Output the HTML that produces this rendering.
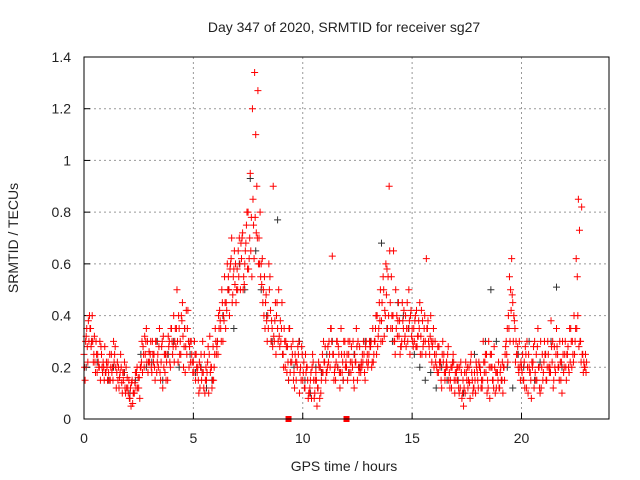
<!DOCTYPE html>
<html><head><meta charset="utf-8"><style>
html,body{margin:0;padding:0;background:#fff;}
svg{display:block;font-family:"Liberation Sans",sans-serif;}
</style></head><body>
<svg id="chart" width="640" height="480" viewBox="0 0 640 480" xmlns="http://www.w3.org/2000/svg">
<text x="344" y="32" font-size="14" text-anchor="middle" fill="#222">Day 347 of 2020, SRMTID for receiver sg27</text>
<text x="344" y="471" font-size="14" text-anchor="middle" fill="#222">GPS time / hours</text>
<text transform="translate(18,238) rotate(-90)" font-size="14" text-anchor="middle" fill="#222">SRMTID / TECUs</text>
<g id="grid"></g>
<g id="ticks"></g>
<g id="blk"></g>
<g id="red"></g>
<rect x="84" y="57" width="525" height="362" fill="none" stroke="#000" stroke-width="1"/>
</svg>
<script>
const xTicks=[0,5,10,15,20];
const yTicks=[0,0.2,0.4,0.6,0.8,1,1.2,1.4];
const yTickLabels=["0","0.2","0.4","0.6","0.8","1","1.2","1.4"];
const stepA=0.1;
const seriesA=[.25,.32,.38,.35,.3,.22,.18,.2,.25,.2,.18,.22,.15,.2,.25,.18,.12,.2,.15,.1,.12,.08,.15,.1,.18,.12,.2,.28,.25,.3,.22,.18,.25,.3,.2,.15,.12,.18,.25,.3,.35,.4,.28,.22,.3,.45,.35,.25,.2,.3,.22,.15,.2,.12,.18,.25,.15,.1,.2,.28,.35,.3,.42,.5,.38,.45,.55,.6,.48,.52,.58,.7,.62,.55,.68,.8,.95,1.2,1.34,.9,.7,.6,.5,.45,.4,.55,.35,.3,.4,.5,.3,.25,.2,.28,.35,.22,.18,.15,.25,.2,.15,.12,.2,.1,.08,.15,.18,.12,.2,.25,.22,.18,.3,.35,.25,.15,.2,.12,.18,.25,.2,.25,.18,.3,.22,.15,.28,.2,.25,.3,.22,.28,.35,.3,.4,.45,.38,.5,.6,.55,.45,.35,.3,.4,.32,.28,.35,.4,.3,.25,.35,.3,.42,.38,.32,.28,.3,.35,.25,.22,.2,.25,.18,.22,.3,.15,.2,.18,.12,.22,.15,.2,.12,.1,.18,.15,.2,.25,.12,.1,.15,.2,.12,.18,.25,.3,.2,.15,.1,.18,.12,.15,.2,.3,.4,.5,.45,.35,.25,.3,.2,.15,.25,.1,.18,.2,.3,.15,.2,.12,.18,.25,.3,.2,.22,.28,.35,.2,.15,.25,.3,.25,.35,.2,.4,.62,.85,.3,.25,.2];
const seriesB=[.15,.28,.4,.3,.25,.3,.22,.15,.18,.28,.2,.15,.25,.3,.2,.15,.18,.1,.22,.12,.15,.05,.1,.18,.12,.08,.3,.2,.35,.22,.3,.25,.15,.22,.35,.28,.2,.15,.32,.2,.25,.3,.5,.35,.4,.2,.28,.42,.3,.22,.3,.2,.1,.25,.18,.15,.22,.32,.12,.2,.25,.4,.35,.3,.45,.6,.4,.7,.58,.45,.65,.5,.72,.6,.8,.62,.78,.75,1.1,1.27,.8,.62,.55,.38,.6,.3,.9,.45,.35,.28,.45,.35,.28,.15,.22,.3,.25,.2,.1,.28,.22,.18,.08,.15,.25,.1,.05,.2,.15,.3,.15,.28,.2,.63,.18,.3,.25,.35,.15,.2,.15,.3,.22,.12,.35,.2,.18,.22,.15,.25,.3,.2,.25,.4,.32,.5,.3,.42,.58,.9,.55,.65,.5,.38,.25,.45,.3,.35,.5,.42,.28,.4,.32,.45,.25,.35,.62,.3,.4,.3,.3,.18,.22,.12,.25,.2,.28,.15,.22,.1,.2,.1,.18,.05,.22,.12,.08,.15,.18,.2,.22,.12,.3,.25,.15,.08,.2,.28,.12,.22,.2,.1,.25,.35,.55,.62,.4,.3,.2,.15,.25,.12,.3,.2,.08,.28,.15,.35,.1,.25,.3,.15,.2,.38,.12,.18,.25,.3,.1,.2,.15,.2,.35,.25,.3,.55,.73,.82,.22,.18];
const seriesD=[.2,.35,.3,.28,.22,.18,.25,.3,.2,.15,.22,.18,.2,.15,.28,.22,.16,.14,.18,.2,.1,.12,.06,.14,.2,.16,.22,.25,.3,.18,.25,.3,.2,.18,.28,.22,.32,.25,.15,.22,.3,.22,.35,.4,.25,.32,.18,.35,.28,.25,.18,.25,.15,.2,.3,.1,.18,.25,.2,.15,.3,.25,.38,.45,.55,.42,.5,.62,.55,.6,.5,.6,.7,.52,.75,.58,.65,.85,.78,.7,.6,.52,.4,.48,.35,.42,.28,.38,.45,.32,.35,.2,.3,.22,.18,.25,.12,.22,.3,.15,.18,.25,.15,.12,.2,.08,.15,.22,.1,.18,.28,.2,.25,.3,.15,.22,.28,.18,.22,.3,.25,.18,.28,.15,.22,.3,.2,.25,.18,.22,.25,.3,.22,.35,.28,.38,.45,.32,.48,.4,.35,.4,.25,.32,.38,.3,.42,.28,.35,.4,.3,.38,.28,.35,.42,.3,.25,.38,.32,.28,.25,.2,.28,.15,.22,.18,.25,.12,.2,.15,.18,.12,.22,.15,.1,.2,.14,.18,.12,.22,.12,.18,.15,.22,.1,.2,.25,.12,.18,.15,.18,.22,.15,.25,.35,.42,.3,.22,.28,.2,.18,.22,.12,.25,.15,.22,.18,.28,.12,.2,.22,.15,.25,.18,.3,.2,.28,.15,.22,.18,.2,.28,.22,.3,.25,.35,.28,.22,.18,.25];
const seriesE=[.3,.22,.35,.4,.32,.25,.2,.28,.22,.18,.15,.25,.18,.22,.12,.2,.25,.18,.12,.16,.08,.14,.1,.12,.16,.2,.18,.32,.22,.26,.2,.22,.3,.25,.18,.3,.25,.22,.28,.35,.28,.35,.3,.25,.38,.28,.42,.3,.22,.18,.25,.18,.22,.15,.12,.2,.28,.18,.15,.25,.28,.35,.3,.4,.35,.5,.58,.45,.65,.5,.55,.68,.5,.65,.58,.7,.55,.62,.72,.6,.55,.45,.35,.3,.5,.38,.32,.25,.3,.38,.25,.3,.18,.35,.28,.15,.22,.28,.18,.25,.12,.2,.1,.18,.22,.15,.12,.08,.18,.22,.18,.22,.35,.25,.2,.3,.18,.25,.3,.22,.3,.22,.2,.25,.28,.18,.22,.3,.28,.2,.28,.22,.3,.25,.35,.3,.55,.4,.35,.65,.4,.3,.35,.45,.28,.38,.32,.45,.38,.32,.35,.28,.32,.25,.38,.4,.35,.28,.3,.35,.22,.28,.2,.25,.18,.22,.15,.2,.25,.18,.15,.2,.08,.12,.18,.15,.22,.1,.15,.18,.2,.15,.22,.18,.12,.25,.15,.2,.18,.12,.15,.2,.28,.22,.3,.48,.38,.25,.18,.22,.15,.28,.2,.18,.22,.12,.25,.2,.3,.15,.25,.2,.18,.28,.15,.25,.2,.22,.3,.25,.25,.18,.3,.22,.35,.4,.3,.25,.2,.22];
const stepC=0.25;
const seriesC=[.2,.3,.22,.18,.15,.2,.12,.18,.1,.15,.25,.2,.22,.3,.15,.25,.3,.2,.35,.25,.18,.2,.12,.15,.3,.4,.5,.35,.6,.5,.93,.65,.5,.4,.3,.77,.25,.15,.2,.3,.15,.1,.2,.18,.25,.3,.2,.15,.18,.25,.2,.3,.3,.4,.68,.35,.3,.45,.4,.35,.25,.2,.15,.18,.12,.2,.15,.22,.15,.1,.2,.25,.2,.3,.5,.3,.15,.2,.12,.25,.2,.3,.15,.22,.25,.3,.51,.2];
const gapMarks=[9.35,12.0];

const X0=84,X1=609,Y0=419,Y1=57,XMAX=24,YMAX=1.4;
const sx=v=>X0+(X1-X0)*v/XMAX;
const sy=v=>Y0-(Y0-Y1)*v/YMAX;
const NS="http://www.w3.org/2000/svg";
function mk(tag,parent,attrs){const e=document.createElementNS(NS,tag);for(const k in attrs)e.setAttribute(k,attrs[k]);parent.appendChild(e);return e;}
const grid=document.getElementById('grid'),ticks=document.getElementById('ticks');
xTicks.forEach(t=>{
  const x=sx(t);
  if(t>0){const g=mk('line',grid,{x1:x,x2:x,y1:Y1,y2:Y0,stroke:'#999','stroke-dasharray':'2,3','stroke-width':1});
  
  }
  const l=mk('line',ticks,{x1:x,x2:x,y1:Y0,y2:Y0-6,stroke:'#000'});
  
  
  const tx=mk('text',ticks,{x:x,y:443,'font-size':14,'text-anchor':'middle',fill:'#222'});tx.textContent=String(t);
  
  
});
yTicks.forEach((t,i)=>{
  const y=sy(t);
  if(t>0&&t<YMAX){const g=mk('line',grid,{x1:X0,x2:X1,y1:y,y2:y,stroke:'#999','stroke-dasharray':'2,3','stroke-width':1});
  
  }
  const l=mk('line',ticks,{x1:X0,x2:X0+6,y1:y,y2:y,stroke:'#000'});
  
  
  const tx=mk('text',ticks,{x:71,y:y+5,'font-size':14,'text-anchor':'end',fill:'#222'});tx.textContent=yTickLabels[i];
  
  
});
function plus(parent,t,v,color){
  const x=sx(t),y=sy(v);
  const p=mk('path',parent,{d:`M${x-3.5},${y}H${x+3.5}M${x},${y-3.5}V${y+3.5}`,stroke:color,'stroke-width':1,fill:'none'});
  
  
}
const blk=document.getElementById('blk'),red=document.getElementById('red');
seriesC.forEach((v,i)=>plus(blk,0.1+i*stepC,v,'#333'));
seriesA.forEach((v,i)=>plus(red,i*stepA,v,'#f00'));
seriesB.forEach((v,i)=>plus(red,0.05+i*stepA,v,'#f00'));
seriesD.forEach((v,i)=>plus(red,0.025+i*stepA,v,'#f00'));
seriesE.forEach((v,i)=>plus(red,0.075+i*stepA,v,'#f00'));
gapMarks.forEach(t=>{
  const r=mk('rect',red,{x:sx(t)-3,y:Y0-3,width:6,height:6,fill:'#f00'});
  
  
});
</script>
</body></html>
